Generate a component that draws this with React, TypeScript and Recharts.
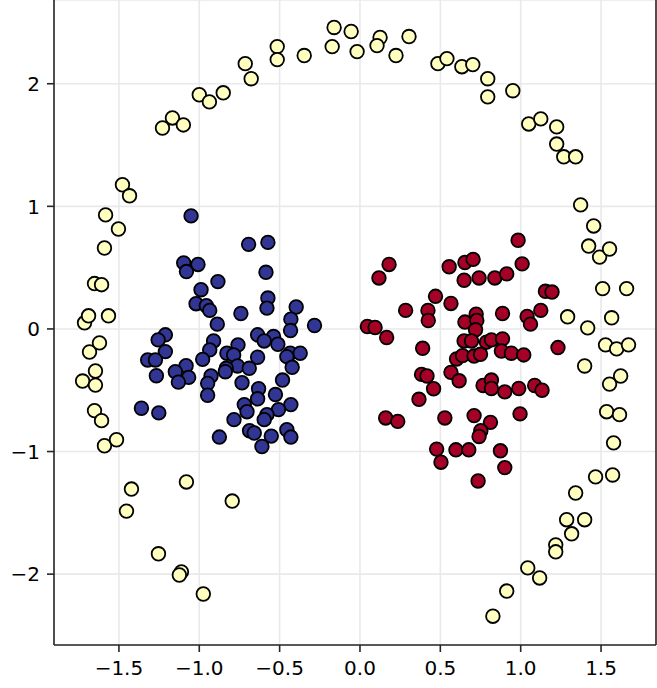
import React from "react";
import { ScatterChart, Scatter, XAxis, YAxis, CartesianGrid, ReferenceLine } from "recharts";

const xTicks = [-1.5, -1.0, -0.5, 0.0, 0.5, 1.0, 1.5];
const yTicks = [-2, -1, 0, 1, 2];
const xDomain: [number, number] = [-1.904, 1.842];
const yDomain: [number, number] = [-2.578, 2.683];

const outerRing: [number, number][] = [
  [-0.161, 2.459], [-0.055, 2.426], [-0.173, 2.303], [-0.018, 2.262], [0.125, 2.377], [0.106, 2.311],
  [0.305, 2.385], [0.224, 2.23], [-0.347, 2.23], [-0.515, 2.303], [-0.515, 2.197], [-0.714, 2.164],
  [-0.677, 2.041], [-0.851, 1.926], [-1.0, 1.91], [-0.937, 1.852], [-1.167, 1.721], [-1.099, 1.664],
  [-1.229, 1.639], [0.485, 2.164], [0.541, 2.205], [0.634, 2.139], [0.702, 2.156], [0.795, 2.041],
  [0.795, 1.893], [0.951, 1.943], [1.05, 1.672], [1.125, 1.713], [1.224, 1.648], [1.224, 1.508],
  [1.268, 1.404], [1.342, 1.404],
  [1.373, 1.012], [1.454, 0.84], [1.423, 0.676], [1.491, 0.586], [1.553, 0.652], [1.51, 0.329],
  [1.659, 0.329], [1.566, 0.091], [1.292, 0.099], [1.417, 0.009], [1.528, -0.13], [1.597, -0.163],
  [1.671, -0.13], [1.622, -0.384], [1.553, -0.45], [1.398, -0.302], [1.535, -0.675], [1.615, -0.699],
  [1.578, -0.929], [1.572, -1.191], [1.466, -1.207], [1.342, -1.338], [1.286, -1.556], [1.317, -1.671],
  [1.398, -1.556], [1.218, -1.761], [1.218, -1.818], [1.044, -1.949], [1.118, -2.031], [0.913, -2.138],
  [0.827, -2.343],
  [-1.478, 1.176], [-1.434, 1.086], [-1.583, 0.93], [-1.503, 0.815], [-1.59, 0.66], [-1.652, 0.37],
  [-1.608, 0.361], [-1.714, 0.05], [-1.689, 0.107], [-1.565, 0.107], [-1.683, -0.188], [-1.621, -0.114],
  [-1.646, -0.343], [-1.726, -0.425], [-1.646, -0.458], [-1.652, -0.666], [-1.608, -0.748], [-1.59, -0.953],
  [-1.515, -0.904], [-1.422, -1.306], [-1.453, -1.486], [-1.08, -1.248], [-0.795, -1.404], [-1.254, -1.834],
  [-1.111, -1.982], [-1.124, -2.007], [-0.975, -2.162],
];

const leftCluster: [number, number][] = [
  [-1.051, 0.922], [-0.693, 0.69], [-0.573, 0.706], [-1.097, 0.539], [-1.008, 0.526], [-1.08, 0.468],
  [-0.585, 0.462], [-0.884, 0.386], [-0.989, 0.32], [-0.573, 0.252], [-1.02, 0.206], [-0.956, 0.189],
  [-0.935, 0.151], [-0.579, 0.17], [-0.397, 0.179], [-0.741, 0.126], [-0.43, 0.08], [-0.888, 0.039],
  [-0.283, 0.028], [-0.432, -0.013], [-1.211, -0.048], [-1.256, -0.089], [-0.637, -0.048], [-0.538, -0.062],
  [-0.911, -0.098], [-0.596, -0.098], [-0.511, -0.125], [-0.759, -0.13], [-1.211, -0.185], [-0.935, -0.171],
  [-0.828, -0.198], [-0.786, -0.212], [-0.434, -0.198], [-0.372, -0.198], [-1.321, -0.253], [-1.273, -0.253],
  [-0.979, -0.248], [-0.637, -0.231], [-0.455, -0.226], [-1.082, -0.3], [-0.762, -0.302], [-0.832, -0.321],
  [-0.689, -0.321], [-0.422, -0.313], [-1.149, -0.349], [-0.838, -0.349], [-1.267, -0.382], [-1.066, -0.395],
  [-0.927, -0.384], [-1.13, -0.434], [-0.482, -0.417], [-0.734, -0.439], [-0.948, -0.444], [-0.948, -0.541],
  [-0.631, -0.488], [-0.637, -0.57], [-0.526, -0.535], [-1.36, -0.647], [-1.252, -0.685], [-0.72, -0.617],
  [-0.43, -0.617], [-0.703, -0.675], [-0.507, -0.658], [-0.579, -0.699], [-0.596, -0.74], [-0.784, -0.74],
  [-0.687, -0.83], [-0.658, -0.849], [-0.875, -0.882], [-0.552, -0.874], [-0.455, -0.822], [-0.43, -0.882],
  [-0.61, -0.959],
];

const rightCluster: [number, number][] = [
  [0.984, 0.723], [0.181, 0.526], [0.118, 0.416], [0.555, 0.507], [0.653, 0.542], [0.704, 0.567],
  [1.009, 0.531], [0.648, 0.397], [0.741, 0.416], [0.839, 0.416], [0.913, 0.449], [1.154, 0.307],
  [1.195, 0.301], [0.47, 0.266], [0.566, 0.208], [0.284, 0.151], [0.423, 0.151], [0.425, 0.069],
  [0.887, 0.126], [1.125, 0.151], [1.04, 0.102], [1.061, 0.039], [0.723, 0.121], [0.653, 0.056],
  [0.727, 0.069], [0.719, -0.007], [0.046, 0.02], [0.094, 0.012], [0.166, -0.07], [0.39, -0.158],
  [0.648, -0.098], [0.694, -0.098], [0.787, -0.108], [0.818, -0.089], [0.887, -0.081], [0.88, -0.18],
  [0.942, -0.198], [1.019, -0.212], [1.232, -0.152], [0.601, -0.245], [0.638, -0.218], [0.71, -0.221],
  [0.75, -0.207], [0.383, -0.371], [0.417, -0.384], [0.566, -0.354], [0.617, -0.423], [0.458, -0.488],
  [0.367, -0.574], [0.766, -0.461], [0.818, -0.417], [0.818, -0.486], [0.901, -0.513], [0.988, -0.486],
  [1.087, -0.461], [1.133, -0.5], [0.16, -0.726], [0.235, -0.754], [0.528, -0.726], [0.71, -0.707],
  [0.812, -0.762], [0.996, -0.693], [0.752, -0.83], [0.741, -0.877], [0.477, -0.98], [0.504, -1.087],
  [0.597, -0.986], [0.677, -0.986], [0.874, -0.994], [0.901, -1.131], [0.735, -1.24],
];

const toPts = (a: [number, number][]) => a.map(([x, y]) => ({ x, y }));

const dot = (fill: string) => (props: any) => (
  <circle cx={props.cx} cy={props.cy} r={6.8} fill={fill} stroke="#000" strokeWidth={1.8} />
);

const spine = "#262626";
const minus = (v: number) => (v < 0 ? "\u2212" : "");

const XTick = (props: any) => {
  const v = props.payload.value as number;
  return (
    <text x={props.x} y={props.y} dy="0.71em" textAnchor="middle" fontFamily="DejaVu Sans" fontSize={20} fill="#000">
      {minus(v) + Math.abs(v).toFixed(1)}
    </text>
  );
};

const YTick = (props: any) => {
  const v = props.payload.value as number;
  return (
    <text x={props.x} y={props.y} dy="0.36em" textAnchor="end" fontFamily="DejaVu Sans" fontSize={20} fill="#000">
      {minus(v) + Math.abs(v).toString()}
    </text>
  );
};

export default function App() {
  return (
    <div style={{ position: "absolute", left: 0, top: 0, width: 657, height: 688, background: "#fff" }}>
      <ScatterChart width={657} height={688} margin={{ top: 0, right: 1, bottom: 0, left: 0 }}>
        <CartesianGrid stroke="#e9e9e9" strokeWidth={1.6} />
        <XAxis
          type="number"
          dataKey="x"
          domain={xDomain}
          ticks={xTicks}
          allowDataOverflow
          height={43}
          tickSize={7}
          tickMargin={9}
          tick={<XTick />}
          stroke={spine}
          strokeWidth={1.6}
        />
        <YAxis
          type="number"
          dataKey="y"
          domain={yDomain}
          ticks={yTicks}
          allowDataOverflow
          width={54}
          tickSize={7}
          tickMargin={7}
          tick={<YTick />}
          stroke={spine}
          strokeWidth={1.6}
        />
        <ReferenceLine x={xDomain[1]} stroke={spine} strokeWidth={1.6} />
        <Scatter data={toPts(outerRing)} shape={dot("#ffffbf")} isAnimationActive={false} />
        <Scatter data={toPts(leftCluster)} shape={dot("#313695")} isAnimationActive={false} />
        <Scatter data={toPts(rightCluster)} shape={dot("#a50026")} isAnimationActive={false} />
      </ScatterChart>
    </div>
  );
}
